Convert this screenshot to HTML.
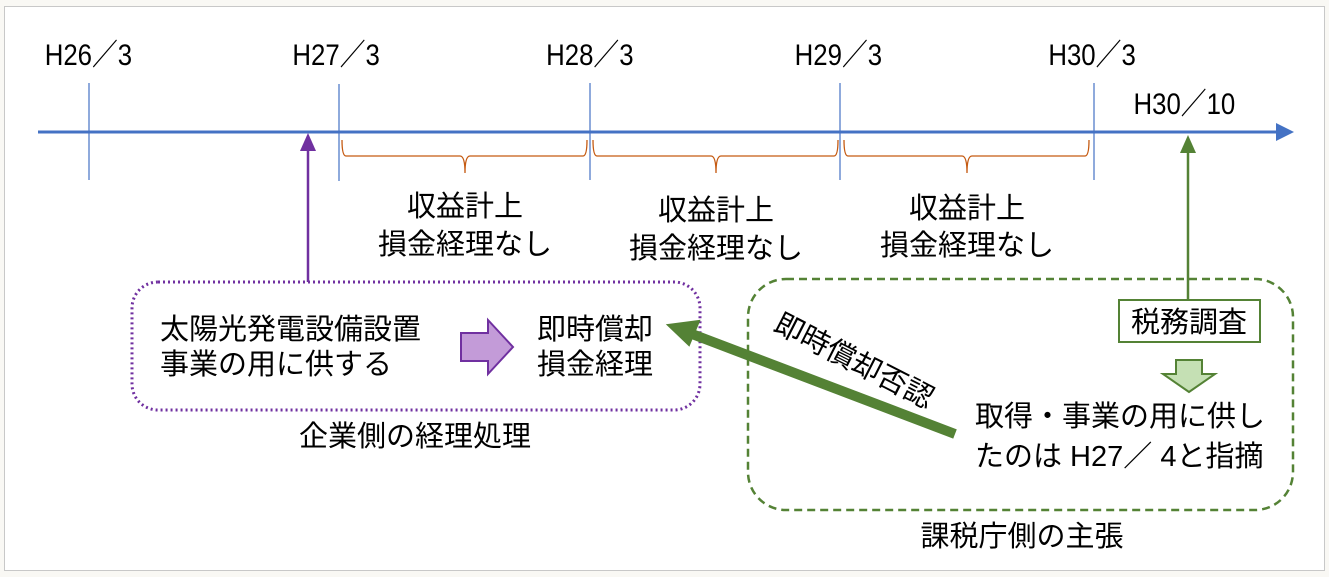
<!DOCTYPE html>
<html><head><meta charset="utf-8"><style>
html,body{margin:0;padding:0;background:#f9f8f4;}
svg{display:block;}
text{font-family:"Liberation Sans","Noto Sans CJK JP",sans-serif;fill:#000;}
.h{font-size:30px;}
.t{font-size:29px;}
</style></head><body>
<svg width="1329" height="577" viewBox="0 0 1329 577" xmlns="http://www.w3.org/2000/svg">
<rect x="4.5" y="6.5" width="1320" height="564" fill="#fff" stroke="#c8c8c8"/>
<line x1="38" y1="132" x2="1278" y2="132" stroke="#4472c4" stroke-width="3"/>
<polygon points="1294,132 1276,123 1276,141" fill="#4472c4"/>
<g stroke="#4472c4" stroke-width="1.2">
<line x1="89" y1="83" x2="89" y2="180"/><line x1="339" y1="84" x2="339" y2="181"/>
<line x1="590" y1="83" x2="590" y2="180"/><line x1="840" y1="83" x2="840" y2="180"/>
<line x1="1094" y1="83" x2="1094" y2="180"/></g>
<g class="h" transform="scale(0.86,1)">
<text x="52" y="65">H26／3</text><text x="340" y="65">H27／3</text>
<text x="635" y="65">H28／3</text><text x="924" y="65">H29／3</text>
<text x="1219" y="65">H30／3</text><text x="1318" y="114">H30／10</text></g>
<g fill="none" stroke="#c55a11" stroke-width="1.3">
<path d="M342,140 q0,16 4,16 h114 q5,0 5,17 q0,-17 5,-17 h113 q4,0 4,-16"/>
<path d="M593,140 q0,16 4,16 h114 q5,0 5,17 q0,-17 5,-17 h113 q4,0 4,-16"/>
<path d="M844,140 q0,16 4,16 h114 q5,0 5,17 q0,-17 5,-17 h113 q4,0 4,-16"/>
</g>
<g class="t" text-anchor="middle">
<text x="465" y="216">収益計上</text><text x="465" y="254">損金経理なし</text>
<text x="716" y="220">収益計上</text><text x="716" y="258">損金経理なし</text>
<text x="967" y="218">収益計上</text><text x="967" y="255">損金経理なし</text>
</g>
<line x1="308" y1="282" x2="308" y2="148" stroke="#7030a0" stroke-width="2.5"/>
<polygon points="308,133 300,151 316,151" fill="#7030a0"/>
<rect x="132" y="282" width="568" height="128" rx="26" fill="none" stroke="#7030a0" stroke-width="3" stroke-dasharray="2,3"/>
<polygon points="461,333 488,333 488,320 513,347 488,374 488,361 461,361" fill="#c39bd8" stroke="#7030a0" stroke-width="2"/>
<g class="t"><text x="160" y="339">太陽光発電設備設置</text><text x="160" y="374">事業の用に供する</text>
<text x="537" y="339">即時償却</text><text x="537" y="374">損金経理</text>
<text x="415" y="446" text-anchor="middle">企業側の経理処理</text></g>
<rect x="748" y="279" width="545" height="231" rx="38" fill="none" stroke="#548235" stroke-width="2.5" stroke-dasharray="8,5"/>
<line x1="1188" y1="302" x2="1188" y2="150" stroke="#548235" stroke-width="2.5"/>
<polygon points="1188,135 1180,153 1196,153" fill="#548235"/>
<rect x="1119" y="300" width="141" height="42" fill="#fff" stroke="#548235" stroke-width="2"/>
<text class="t" x="1189" y="332" text-anchor="middle">税務調査</text>
<polygon points="1176,360 1202,360 1202,374 1215,374 1189,392 1163,374 1176,374" fill="#c5e0b4" stroke="#548235" stroke-width="2"/>
<line x1="955" y1="434" x2="692" y2="334" stroke="#548235" stroke-width="10"/>
<polygon points="668,325 699,321 689,345" fill="#548235" stroke="#548235" stroke-width="2"/>
<text class="t" transform="translate(772,330) rotate(27)">即時償却否認</text>
<g class="t"><text x="975" y="426">取得・事業の用に供し</text><text x="975" y="466">たのは H27／ 4と指摘</text>
<text x="1022" y="546" text-anchor="middle">課税庁側の主張</text></g>
</svg>
</body></html>
